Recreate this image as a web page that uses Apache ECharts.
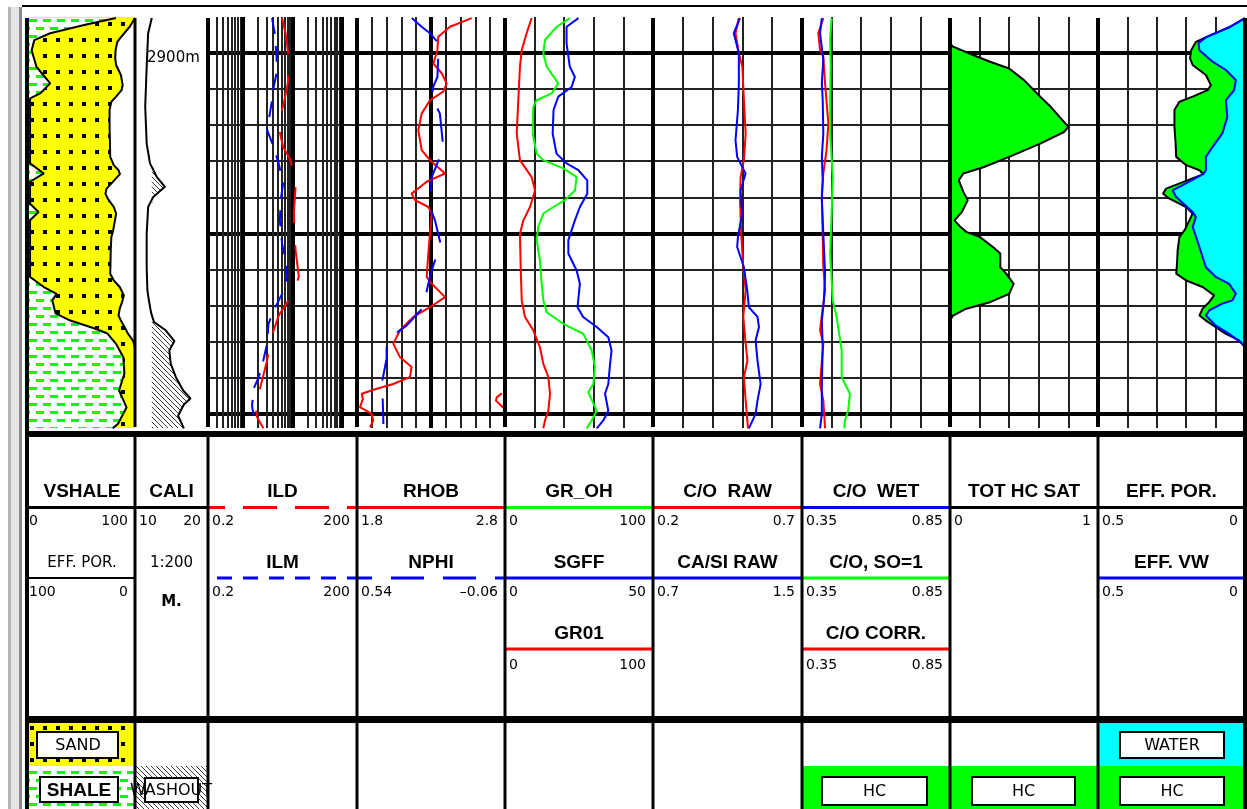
<!DOCTYPE html>
<html>
<head>
<meta charset="utf-8">
<script src="https://cdn.jsdelivr.net/npm/echarts@6/dist/echarts.min.js"></script>
<style>
  html, body { margin: 0; padding: 0; background: #fff; }
  #chart { width: 1247px; height: 809px; }
</style>
</head>
<body>
<div id="chart"></div>
<script>
// ---- depth window (m) ----
const depthTop = 2899, depthBase = 2910.4;
const depthMajor = [2900, 2905, 2910];
const bitSize = 12.3;

// ---- track scales [left, right] ----
const scaleVsh = [0, 100], scalePorPct = [100, 0], scaleCali = [10, 20];
const scaleRes = [0.2, 200], scaleRhob = [1.8, 2.8], scaleNphi = [0.54, -0.06];
const scaleGr = [0, 100], scaleSgff = [0, 50], scaleCoRaw = [0.2, 0.7], scaleCaSi = [0.7, 1.5];
const scaleCo = [0.35, 0.85], scaleSat = [0, 1], scalePor = [0.5, 0];
const resMinor = [0.3, 0.4, 0.5, 0.6, 0.7, 0.8, 0.9, 2, 3, 4, 5, 6, 7, 8, 9, 20, 30, 40, 50, 60, 70, 80, 90];
const resMajor = [1, 10, 100];

// ---- curves: [depth m, value] ----
const vshale = [[2899.03, 82], [2899.22, 52], [2899.45, 20], [2899.64, 5], [2899.92, 2.5], [2900.38, 7], [2900.84, 20], [2901.12, 10.5], [2901.26, 1], [2903.06, 1], [2903.34, 14], [2903.57, 1], [2904.18, 1], [2904.41, 9], [2904.64, 1], [2906.21, 1], [2906.49, 14], [2906.68, 26], [2906.86, 22], [2907.22, 25], [2907.42, 39], [2907.64, 62], [2907.78, 74], [2908.06, 82], [2908.44, 89], [2908.89, 90], [2909.36, 85], [2909.83, 92], [2910.28, 84], [2910.41, 79]];

const effPor = [[2899.03, 0], [2899.27, 0.05], [2899.55, 0.13], [2899.69, 0.167], [2899.92, 0.183], [2900.15, 0.187], [2900.33, 0.178], [2900.61, 0.133], [2900.89, 0.116], [2901.03, 0.127], [2901.21, 0.178], [2901.35, 0.223], [2901.58, 0.24], [2902.05, 0.24], [2902.51, 0.236], [2902.88, 0.234], [2903.11, 0.2], [2903.25, 0.155], [2903.36, 0.142], [2903.76, 0.268], [2903.9, 0.279], [2904.04, 0.257], [2904.27, 0.2], [2904.45, 0.178], [2904.64, 0.189], [2904.92, 0.206], [2905.1, 0.223], [2905.47, 0.229], [2905.94, 0.232], [2906.12, 0.234], [2906.31, 0.2], [2906.49, 0.144], [2906.72, 0.105], [2906.91, 0.122], [2907.09, 0.144], [2907.28, 0.155], [2907.42, 0.133], [2907.6, 0.099], [2907.79, 0.065], [2907.97, 0.02], [2908.16, 0]];

const effVw = [[2899.03, 0], [2899.27, 0.05], [2899.55, 0.13], [2899.73, 0.158], [2899.92, 0.155], [2900.24, 0.11], [2900.47, 0.065], [2900.75, 0.031], [2901.03, 0.037], [2901.31, 0.065], [2901.77, 0.06], [2902.23, 0.077], [2902.6, 0.11], [2902.88, 0.133], [2903.25, 0.133], [2903.36, 0.142], [2903.81, 0.246], [2903.99, 0.234], [2904.41, 0.178], [2904.55, 0.167], [2904.82, 0.178], [2905.38, 0.155], [2905.94, 0.133], [2906.21, 0.099], [2906.4, 0.054], [2906.68, 0.031], [2906.86, 0.043], [2906.95, 0.077], [2907.14, 0.122], [2907.28, 0.133], [2907.56, 0.099], [2907.79, 0.054], [2908.06, 0.009], [2908.16, 0]];

const hcSat = [[2899.73, 0], [2899.82, 0.02], [2900.06, 0.16], [2900.24, 0.27], [2900.43, 0.4], [2900.75, 0.5], [2901.21, 0.61], [2901.49, 0.68], [2901.77, 0.74], [2902.05, 0.8], [2902.19, 0.77], [2902.51, 0.61], [2902.88, 0.4], [2903.16, 0.23], [2903.34, 0.09], [2903.53, 0.06], [2903.85, 0.09], [2904.08, 0.12], [2904.41, 0.08], [2904.64, 0.03], [2904.82, 0.07], [2904.96, 0.11], [2905.1, 0.2], [2905.38, 0.29], [2905.56, 0.34], [2905.94, 0.34], [2906.12, 0.38], [2906.4, 0.43], [2906.68, 0.4], [2906.91, 0.27], [2907.09, 0.11], [2907.28, 0.02], [2907.42, 0]];

const cali = [[2899.03, 12.3], [2899.45, 11.8], [2900.38, 11.6], [2901.49, 11.4], [2902.51, 11.6], [2903.06, 12.05], [2903.44, 13.0], [2903.71, 14.1], [2903.99, 12.5], [2904.27, 11.8], [2905.01, 11.6], [2905.94, 11.6], [2906.58, 11.7], [2906.86, 11.9], [2907.2, 12.2], [2907.46, 12.6], [2907.69, 14.2], [2907.99, 15.4], [2908.25, 14.7], [2908.62, 14.9], [2908.99, 15.6], [2909.36, 16.6], [2909.58, 17.6], [2909.75, 16.7], [2910.06, 15.9], [2910.41, 16.7]];

const ild = [[2899.03, 6.2], [2899.45, 7.3], [2900.15, 8.5], [2900.84, 8.1], [2901.4, 6.7], [2901.95, 5.1], [2902.6, 6.5], [2902.97, 9.2], [2903.71, 11.6], [2904.45, 10.7], [2905.01, 11.1], [2905.47, 11.6], [2906.21, 13.5], [2906.77, 9.2], [2907.28, 5.3], [2907.97, 3.6], [2908.53, 3.1], [2909.08, 2.45], [2909.78, 1.8], [2910.1, 1.95], [2910.41, 2.6]];

const ilm = [[2899.03, 3.9], [2899.45, 4.4], [2900.1, 4.8], [2900.56, 4.8], [2900.94, 4.2], [2901.31, 3.9], [2902.14, 3.1], [2902.6, 4.2], [2903.06, 5.3], [2903.62, 6.5], [2904.08, 5.8], [2904.64, 5.6], [2905.29, 6.2], [2905.75, 7.3], [2906.21, 7.9], [2906.68, 6.2], [2907.14, 4.2], [2907.51, 3.3], [2908.06, 3.1], [2908.53, 2.6], [2908.99, 2.1], [2909.31, 1.66], [2909.78, 1.54], [2910.19, 1.71]];

const rhob = [[2899.03, 2.575], [2899.27, 2.428], [2899.55, 2.349], [2899.92, 2.343], [2900.29, 2.316], [2900.56, 2.372], [2900.84, 2.406], [2901.07, 2.383], [2901.31, 2.293], [2901.68, 2.237], [2902.14, 2.214], [2902.69, 2.237], [2902.97, 2.293], [2903.34, 2.395], [2903.57, 2.271], [2903.9, 2.169], [2904.08, 2.192], [2904.27, 2.282], [2904.45, 2.305], [2905.01, 2.293], [2905.56, 2.282], [2906.21, 2.271], [2906.4, 2.305], [2906.77, 2.395], [2907.05, 2.293], [2907.32, 2.18], [2907.69, 2.091], [2908.06, 2.045], [2908.44, 2.091], [2908.71, 2.169], [2908.99, 2.158], [2909.18, 2.045], [2909.31, 1.933], [2909.45, 1.832], [2909.6, 1.84], [2909.82, 1.82], [2910.01, 1.899], [2910.19, 1.91], [2910.38, 1.888]];

const rhobWrap = [[2909.44, 2.778], [2909.55, 2.744], [2909.64, 2.739], [2909.75, 2.766], [2909.84, 2.789]];

const nphi = [[2899.03, 0.318], [2899.27, 0.278], [2899.45, 0.244], [2899.69, 0.214], [2900.01, 0.21], [2900.66, 0.214], [2900.94, 0.231], [2901.21, 0.237], [2901.68, 0.204], [2902.42, 0.193], [2902.88, 0.204], [2903.44, 0.237], [2904.27, 0.244], [2904.64, 0.224], [2905.29, 0.201], [2905.94, 0.233], [2906.4, 0.251], [2907.05, 0.271], [2907.56, 0.339], [2907.79, 0.386], [2908.16, 0.42], [2908.48, 0.42], [2909.18, 0.44], [2909.55, 0.436], [2910.29, 0.433]];

const grOh = [[2899.03, 43.9], [2899.27, 34.9], [2899.64, 27.0], [2900.01, 25.9], [2900.38, 28.2], [2900.84, 36.0], [2901.12, 31.5], [2901.31, 21.4], [2901.49, 19.1], [2902.23, 18.7], [2902.79, 21.4], [2902.97, 25.9], [2903.2, 39.4], [2903.44, 48.4], [2903.81, 47.3], [2904.08, 40.5], [2904.27, 32.7], [2904.45, 25.9], [2904.82, 22.5], [2905.19, 21.4], [2905.75, 23.6], [2906.4, 24.8], [2906.86, 25.9], [2907.19, 28.2], [2907.51, 39.4], [2907.79, 52.9], [2908.25, 58.6], [2908.71, 60.8], [2909.18, 59.7], [2909.41, 56.3], [2909.92, 62.0], [2910.19, 58.6], [2910.41, 55.2]];

const sgff = [[2899.03, 24.8], [2899.27, 20.8], [2899.73, 20.8], [2900.38, 21.9], [2900.66, 23.6], [2900.94, 22.5], [2901.21, 18.0], [2901.58, 16.4], [2902.23, 16.1], [2902.79, 17.4], [2903.06, 20.8], [2903.25, 24.8], [2903.53, 27.8], [2903.9, 27.8], [2904.27, 25.3], [2904.64, 23.6], [2905.19, 21.4], [2905.56, 21.4], [2906.03, 24.2], [2906.4, 25.3], [2907.05, 24.5], [2907.32, 26.4], [2907.6, 31.0], [2907.88, 34.9], [2908.25, 36.0], [2908.71, 35.4], [2909.18, 34.9], [2909.45, 33.8], [2909.92, 34.9], [2910.19, 33.2], [2910.41, 31.0]];

const gr01 = [[2899.03, 18.0], [2899.45, 14.6], [2899.92, 11.3], [2900.38, 10.1], [2901.31, 9.0], [2902.23, 7.9], [2902.97, 10.1], [2903.44, 18.0], [2903.81, 20.3], [2904.27, 16.9], [2904.64, 12.4], [2905.01, 10.1], [2905.94, 10.6], [2906.86, 11.3], [2907.32, 13.5], [2907.69, 19.1], [2908.16, 23.6], [2908.62, 25.9], [2908.99, 29.3], [2909.45, 30.4], [2909.92, 29.3], [2910.19, 27.0], [2910.41, 25.9]];

const coRaw = [[2899.03, 0.488], [2899.45, 0.477], [2900.01, 0.488], [2900.38, 0.5], [2901.31, 0.505], [2902.23, 0.511], [2902.97, 0.505], [2903.44, 0.494], [2904.08, 0.492], [2905.01, 0.496], [2905.94, 0.503], [2906.58, 0.511], [2907.32, 0.503], [2908.06, 0.511], [2908.53, 0.517], [2908.99, 0.505], [2909.64, 0.511], [2910.41, 0.519]];

const caSiRaw = [[2899.03, 1.167], [2899.45, 1.134], [2900.01, 1.161], [2900.84, 1.161], [2901.58, 1.156], [2902.42, 1.143], [2902.88, 1.152], [2903.34, 1.197], [2903.81, 1.17], [2904.45, 1.179], [2905.1, 1.156], [2905.38, 1.152], [2905.94, 1.188], [2906.58, 1.206], [2907.05, 1.215], [2907.32, 1.261], [2907.6, 1.269], [2907.97, 1.251], [2908.53, 1.261], [2909.18, 1.278], [2909.64, 1.261], [2910.01, 1.251], [2910.41, 1.215]];

const coWet = [[2899.03, 0.417], [2899.45, 0.411], [2900.19, 0.422], [2900.84, 0.417], [2901.31, 0.42], [2902.23, 0.422], [2902.88, 0.417], [2903.53, 0.42], [2904.08, 0.417], [2905.01, 0.422], [2906.12, 0.428], [2906.86, 0.424], [2907.42, 0.417], [2908.16, 0.42], [2909.18, 0.417], [2910.01, 0.417], [2910.41, 0.411]];

const coSo1 = [[2899.03, 0.45], [2899.64, 0.445], [2900.38, 0.447], [2901.31, 0.445], [2902.23, 0.445], [2903.44, 0.454], [2904.45, 0.45], [2905.56, 0.445], [2906.86, 0.454], [2907.32, 0.467], [2908.25, 0.484], [2908.99, 0.484], [2909.45, 0.512], [2909.92, 0.506], [2910.19, 0.495], [2910.41, 0.493]];

const coCorr = [[2899.03, 0.422], [2899.45, 0.405], [2899.92, 0.411], [2900.1, 0.422], [2900.84, 0.428], [2901.95, 0.439], [2902.69, 0.433], [2903.34, 0.422], [2903.9, 0.417], [2905.01, 0.42], [2905.94, 0.422], [2906.58, 0.428], [2906.95, 0.422], [2907.69, 0.411], [2908.06, 0.422], [2908.53, 0.417], [2909.18, 0.411], [2909.64, 0.422], [2910.41, 0.428]];

// ---- layout ----
const edges = [29, 135, 208, 357, 505, 653, 802, 950, 1098, 1245];
const RED = '#ff0000', BLUE = '#0000ff', GREEN = '#00ff00', CYAN = '#00ffff', YELLOW = '#ffff00';
const TITLE = 'bold 19px "Liberation Sans", Arial, sans-serif';
const NUM = '14px "DejaVu Sans", sans-serif';
const PLAIN = '15px "DejaVu Sans", sans-serif';
const LEGEND = '16px "DejaVu Sans", sans-serif';

// lithology fill tiles
function tile(w, h, draw) {
  const c = document.createElement('canvas');
  c.width = w; c.height = h;
  draw(c.getContext('2d'), w, h);
  return { image: c, repeat: 'repeat' };
}
const sandFill = tile(13, 16, (g, w, h) => {
  g.fillStyle = YELLOW; g.fillRect(0, 0, w, h);
  g.fillStyle = '#000'; g.fillRect(4, 6, 4, 4);
});
const shaleFill = tile(14, 16, (g, w, h) => {
  g.fillStyle = '#fff'; g.fillRect(0, 0, w, h);
  g.fillStyle = GREEN;
  g.fillRect(1, 3, 8, 3);
  g.fillRect(8, 11, 8, 3); g.fillRect(-6, 11, 8, 3);
});
const hatchFill = tile(5, 5, (g, w, h) => {
  g.fillStyle = '#fff'; g.fillRect(0, 0, w, h);
  g.strokeStyle = '#3a3a3a'; g.lineWidth = 1;
  g.beginPath();
  g.moveTo(-1, -1); g.lineTo(6, 6);
  g.moveTo(-1, 4); g.lineTo(1, 6);
  g.moveTo(4, -1); g.lineTo(6, 1);
  g.stroke();
});

// ---- grids & axes ----
const grids = edges.slice(0, -1).map((l, i) => ({ left: l, top: 17, width: edges[i + 1] - l, height: 411 }));
const yAxes = grids.map((g, i) => ({
  type: 'value', gridIndex: i, inverse: true, min: depthTop, max: depthBase, interval: 1,
  axisLine: { show: false }, axisTick: { show: false },
  axisLabel: i === 1 ? {
    show: true, inside: true, margin: 12, color: '#000', fontFamily: 'DejaVu Sans', fontSize: 15,
    verticalAlign: 'top', lineHeight: 11,
    formatter: v => (Math.round(v) === depthMajor[0] ? depthMajor[0] + 'm' : '')
  } : { show: false },
  splitLine: { show: i >= 2, showMinLine: false, showMaxLine: false, lineStyle: { color: '#222', width: 2 } }
}));

const xAxes = [];
function addX(cfg) { xAxes.push(cfg); return xAxes.length - 1; }
function scaleAxis(g, s, type) {
  return addX({ type: type || 'value', gridIndex: g, min: Math.min(s[0], s[1]), max: Math.max(s[0], s[1]), inverse: s[0] > s[1], show: false });
}
function gridLines(g, n, step, width, color) {
  return addX({
    type: 'value', gridIndex: g, min: 0, max: n, interval: step, position: 'top', show: true,
    axisLine: { show: false }, axisTick: { show: false }, axisLabel: { show: false },
    splitLine: { show: true, showMinLine: false, showMaxLine: false, lineStyle: { color: color, width: width } }
  });
}

const xVsh = scaleAxis(0, scaleVsh), xPorPct = scaleAxis(0, scalePorPct);
const xCali = scaleAxis(1, scaleCali);
const xRes = scaleAxis(2, scaleRes, 'log');
gridLines(3, 10, 1, 2, '#222'); gridLines(3, 10, 5, 4, '#000');
const xRhob = scaleAxis(3, scaleRhob), xNphi = scaleAxis(3, scaleNphi);
gridLines(4, 5, 1, 2, '#222');
const xGr = scaleAxis(4, scaleGr), xSgff = scaleAxis(4, scaleSgff);
gridLines(5, 5, 1, 2, '#222');
const xCoRaw = scaleAxis(5, scaleCoRaw), xCaSi = scaleAxis(5, scaleCaSi);
gridLines(6, 5, 1, 2, '#222');
const xCo = scaleAxis(6, scaleCo);
gridLines(7, 5, 1, 2, '#222');
const xSat = scaleAxis(7, scaleSat);
gridLines(8, 5, 1, 2, '#222');
const xPor = scaleAxis(8, scalePor);

// ---- series ----
const series = [];
const xy = pts => pts.map(p => [p[1], p[0]]);
function majorLines(extra) {
  return {
    silent: true, symbol: ['none', 'none'], z: 1, animation: false, label: { show: false },
    lineStyle: { color: '#000', width: 4, type: 'solid' },
    data: depthMajor.map(d => ({ yAxis: d })).concat(extra || [])
  };
}
function curve(data, x, y, color, dash, extra) {
  const s = {
    type: 'line', xAxisIndex: x, yAxisIndex: y, data: xy(data), symbol: 'none', showSymbol: false,
    silent: true, animation: false, z: 4, clip: true,
    lineStyle: { color: color, width: 2, type: dash || 'solid' }
  };
  if (extra) Object.assign(s, extra);
  series.push(s);
}
function area(points, x, y, fill) {
  series.push({
    type: 'custom', xAxisIndex: x, yAxisIndex: y, silent: true, animation: false, z: 3, clip: true,
    data: [[xAxes[x].min, depthTop]],
    renderItem: (params, api) => ({
      type: 'polygon',
      shape: { points: points.map(p => api.coord(p)) },
      style: { fill: fill, lineWidth: 0 }
    })
  });
}
function toBase(data, base) {
  return xy(data).concat([[base, data[data.length - 1][0]], [base, data[0][0]]]);
}

// VSHALE / EFF. POR. lithology column
const porPct = effPor.map(p => [p[0], p[1] * 100]);
area([[100, depthTop], [0, depthTop]].concat(xy(porPct)).concat([[0, depthBase], [100, depthBase]]), xPorPct, 0, sandFill);
area(toBase(vshale, 0), xVsh, 0, shaleFill);
curve(vshale, xVsh, 0, '#000');
curve(porPct, xPorPct, 0, '#000');

// caliper with washout hatch beyond bit size
area(toBase(cali.map(p => [p[0], Math.max(p[1], bitSize)]), bitSize), xCali, 1, hatchFill);
curve(cali, xCali, 1, '#000');

// resistivity (log track)
curve(ild, xRes, 2, RED, [36, 22], {
  markLine: majorLines(
    resMinor.map(v => ({ xAxis: v, lineStyle: { color: '#222', width: 2, type: 'solid' } }))
      .concat(resMajor.map(v => ({ xAxis: v })))
  )
});
curve(ilm, xRes, 2, BLUE, [16, 12]);

// density / neutron
curve(rhob, xRhob, 3, RED, null, { markLine: majorLines() });
curve(rhobWrap, xRhob, 3, RED);
curve(nphi, xNphi, 3, BLUE, [34, 18]);

// gamma ray
curve(gr01, xGr, 4, RED, null, { markLine: majorLines() });
curve(grOh, xGr, 4, GREEN);
curve(sgff, xSgff, 4, BLUE);

// carbon/oxygen raw
curve(coRaw, xCoRaw, 5, RED, null, { markLine: majorLines() });
curve(caSiRaw, xCaSi, 5, BLUE);

// carbon/oxygen processed
curve(coCorr, xCo, 6, RED, null, { markLine: majorLines() });
curve(coWet, xCo, 6, BLUE);
curve(coSo1, xCo, 6, GREEN);

// total hydrocarbon saturation
area(toBase(hcSat, 0), xSat, 7, GREEN);
curve(hcSat, xSat, 7, '#000', null, { markLine: majorLines() });

// effective porosity / bulk volume water
area(toBase(effPor, 0), xPor, 8, GREEN);
area(toBase(effVw, 0), xPor, 8, CYAN);
curve(effPor, xPor, 8, '#000', null, { markLine: majorLines() });
curve(effVw, xPor, 8, BLUE);

// ---- frame, header and legend ----
const G = [];
function text(x, y, s, font, align) {
  G.push({
    type: 'text', x: x, y: y, z: 30, silent: true,
    style: { text: s, font: font, fill: '#000', align: align || 'center', verticalAlign: 'middle',
      textAlign: align || 'center', textVerticalAlign: 'middle' }
  });
}
function line(x1, y1, x2, y2, color, w, dash, off) {
  G.push({
    type: 'line', z: 25, silent: true, shape: { x1: x1, y1: y1, x2: x2, y2: y2 },
    style: { stroke: color, lineWidth: w, lineDash: dash || null, lineDashOffset: off || 0 }
  });
}
function rect(x, y, w, h, fill, stroke, lw, z) {
  G.push({
    type: 'rect', z: z || 22, silent: true, shape: { x: x, y: y, width: w, height: h },
    style: { fill: fill, stroke: stroke || null, lineWidth: lw || 0 }
  });
}
const fmt = v => String(v).replace('-', '\u2013');

// window frame
rect(8, 7, 14, 802, '#e4e4e4');
line(9.5, 7, 9.5, 809, '#b4b4b4', 3);
line(20.5, 7, 20.5, 809, '#8c8c8c', 3);
line(22, 6, 1247, 6, '#000', 2);

// header cells
const rowY = [[492, 507.5, 521.5], [563, 578, 592], [634, 649, 665]];
const headerCells = [
  { track: 0, rows: [{ name: 'VSHALE', color: '#000', scale: scaleVsh },
                     { name: 'EFF. POR.', color: '#000', lw: 2, font: PLAIN, scale: scalePorPct }] },
  { track: 1, rows: [{ name: 'CALI', color: '#000', scale: scaleCali }] },
  { track: 2, rows: [{ name: 'ILD', color: RED, dash: [34, 18], off: 17, scale: scaleRes },
                     { name: 'ILM', color: BLUE, dash: [15, 11], off: 17, scale: scaleRes }] },
  { track: 3, rows: [{ name: 'RHOB', color: RED, scale: scaleRhob },
                     { name: 'NPHI', color: BLUE, dash: [33, 19], off: 18, scale: scaleNphi }] },
  { track: 4, rows: [{ name: 'GR_OH', color: GREEN, scale: scaleGr },
                     { name: 'SGFF', color: BLUE, scale: scaleSgff },
                     { name: 'GR01', color: RED, scale: scaleGr }] },
  { track: 5, rows: [{ name: 'C/O  RAW', color: RED, scale: scaleCoRaw },
                     { name: 'CA/SI RAW', color: BLUE, scale: scaleCaSi }] },
  { track: 6, rows: [{ name: 'C/O  WET', color: BLUE, scale: scaleCo },
                     { name: 'C/O, SO=1', color: GREEN, scale: scaleCo },
                     { name: 'C/O CORR.', color: RED, scale: scaleCo }] },
  { track: 7, rows: [{ name: 'TOT HC SAT', color: '#000', scale: scaleSat }] },
  { track: 8, rows: [{ name: 'EFF. POR.', color: '#000', scale: scalePor },
                     { name: 'EFF. VW', color: BLUE, scale: scalePor }] }
];
headerCells.forEach(cell => {
  const L = edges[cell.track], R = edges[cell.track + 1], C = (L + R) / 2;
  cell.rows.forEach((r, k) => {
    const ty = rowY[k][0], ly = rowY[k][1], ny = rowY[k][2];
    text(C, ty, r.name, r.font || TITLE);
    line(L, ly, R, ly, r.color, r.lw || 3, r.dash, r.off);
    text(L + (cell.track === 0 ? 0 : 4), ny, fmt(r.scale[0]), NUM, 'left');
    text(R - 7, ny, fmt(r.scale[1]), NUM, 'right');
  });
});
text((edges[1] + edges[2]) / 2, 563, '1:200', PLAIN);
text((edges[1] + edges[2]) / 2, 602, 'M.', 'bold 15px "DejaVu Sans", sans-serif');

// legend
rect(29, 723, 105, 43, sandFill);
rect(37, 732, 81, 26, '#fff', '#000', 2, 23);
text(78, 745.5, 'SAND', LEGEND);
rect(29, 766, 105, 43, shaleFill);
rect(40, 777, 78, 25, '#fff', '#000', 2, 23);
text(79, 790.5, 'SHALE', 'bold 19px "Liberation Sans", Arial, sans-serif');
rect(136, 766, 71, 43, hatchFill);
rect(145, 778, 53, 24, '#fff', '#000', 2, 23);
text(171, 790.5, 'WASHOUT', LEGEND);
[[802, 822, 105], [950, 972, 103], [1098, 1120, 104]].forEach(c => {
  rect(c[0], 766, 148, 43, GREEN);
  rect(c[1], 777, c[2], 28, '#fff', '#000', 2, 23);
  text(c[1] + c[2] / 2, 791.5, 'HC', LEGEND);
});
rect(1098, 723, 147, 43, CYAN);
rect(1120, 732, 104, 26, '#fff', '#000', 2, 23);
text(1172, 745.5, 'WATER', LEGEND);

// track borders
rect(25, 18, 4, 791, '#000', null, 0, 26);
rect(1243, 18, 4, 791, '#000', null, 0, 26);
edges.slice(1, -1).forEach(x => {
  line(x, 18, x, 427, '#000', x === 135 ? 3 : 4);
  line(x, 437, x, 716, '#000', 3);
  line(x, 723, x, 809, '#000', 3);
});
rect(25, 431, 1222, 6, '#000', null, 0, 26);
rect(25, 716, 1222, 7, '#000', null, 0, 26);

const chart = echarts.init(document.getElementById('chart'), null, { renderer: 'canvas' });
chart.setOption({
  animation: false,
  grid: grids,
  xAxis: xAxes,
  yAxis: yAxes,
  series: series,
  graphic: { elements: G }
});
</script>
</body>
</html>
